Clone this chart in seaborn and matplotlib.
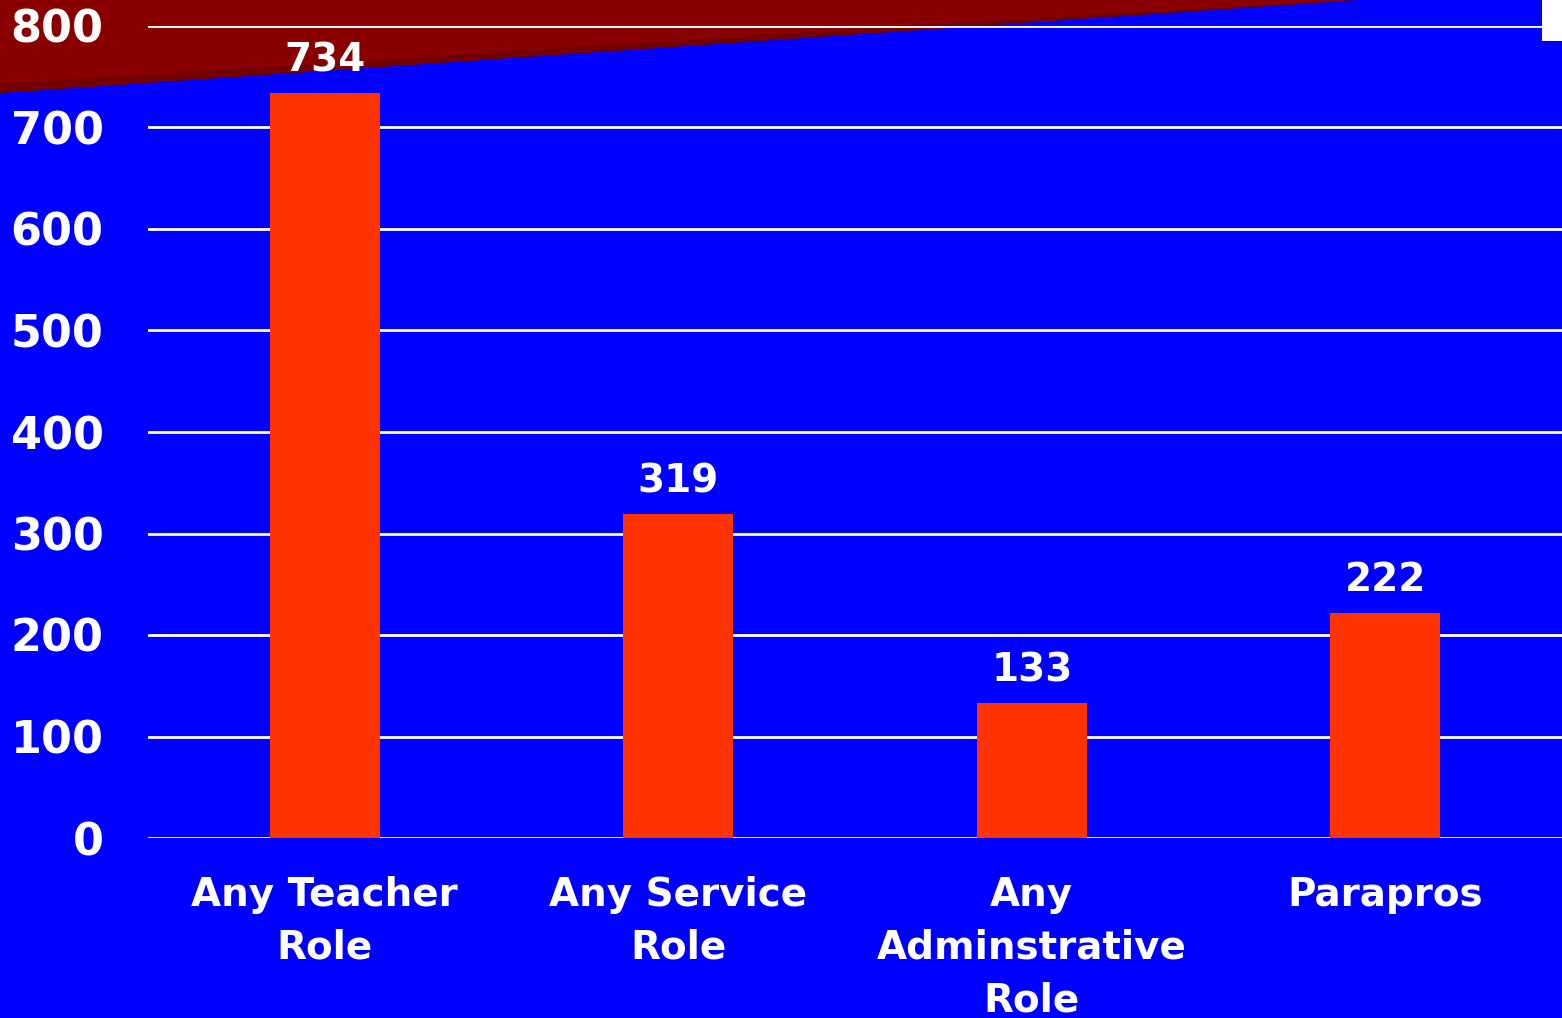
import matplotlib
matplotlib.use("Agg")
import matplotlib.pyplot as plt
import seaborn as sns
import pandas as pd
from matplotlib.patches import Polygon, Rectangle

categories = ["Any Teacher\nRole", "Any Service\nRole", "Any\nAdminstrative\nRole", "Parapros"]
values = [734, 319, 133, 222]
yticks = [0, 100, 200, 300, 400, 500, 600, 700, 800]

sns.set_theme(style="white")
plt.rcParams['font.family'] = ['DejaVu Sans']

BLUE = "#0000FF"
BAR = "#FF3300"
DARKRED = "#880000"

W, H = 1562, 1018
fig = plt.figure(figsize=(W / 100, H / 100), dpi=100, facecolor=BLUE)

# background decoration: dark red wedge at top
fig.patches.append(Polygon([[0, 1], [1355 / W, 1], [0, 1 - 93 / H]], closed=True,
                           transform=fig.transFigure, facecolor=DARKRED, edgecolor="none", zorder=-5))
fig.patches.append(Polygon([[0, 1 - 84 / H], [1000 / W, 1 - 20 / H], [1355 / W, 1], [1355 / W, 1 - 0.5 / H], [0, 1 - 93 / H]], closed=True,
                           transform=fig.transFigure, facecolor="#660000", edgecolor="none", zorder=-4, alpha=0.6))
fig.patches.append(Rectangle((1542 / W, 1 - 41 / H), 20 / W, 41 / H, transform=fig.transFigure,
                             facecolor="white", edgecolor="none", zorder=-4))

ax = fig.add_axes([148 / W, 180 / H, 1 - 148 / W, (838 - 26) / H])
ax.set_facecolor("none")
ax.set_zorder(1)

df = pd.DataFrame({"cat": categories, "val": values})
sns.barplot(data=df, x="cat", y="val", color=BAR, saturation=1, width=0.31, ax=ax, zorder=3)
for p in ax.patches:
    p.set_edgecolor("none")

ax.set_xlim(-0.5, 3.5)
ax.set_ylim(0, 800)
ax.set_yticks(yticks)
ax.set_yticklabels([str(t) for t in yticks])
ax.yaxis.grid(True, color="white", linewidth=2)
ax.set_axisbelow(True)
for s in ax.spines.values():
    s.set_visible(False)
ax.set_xlabel("")
ax.set_ylabel("")
ax.tick_params(axis="y", length=0, pad=32, labelsize=32, labelcolor="white")
ax.tick_params(axis="x", length=0, pad=27, labelsize=28, labelcolor="white")
for lab in ax.get_yticklabels() + ax.get_xticklabels():
    lab.set_fontweight("bold")
for lab in ax.get_xticklabels():
    lab.set_linespacing(1.5)
    lab.set_verticalalignment("top")

for i, v in enumerate(values):
    t = ax.annotate(str(v), (i, v), xytext=(0, 10), textcoords="offset points",
                    ha="center", va="bottom", color="white", fontsize=28, fontweight="bold", zorder=5)
    t.set_clip_on(False)

fig.savefig("out.png", dpi=100, facecolor=BLUE)
